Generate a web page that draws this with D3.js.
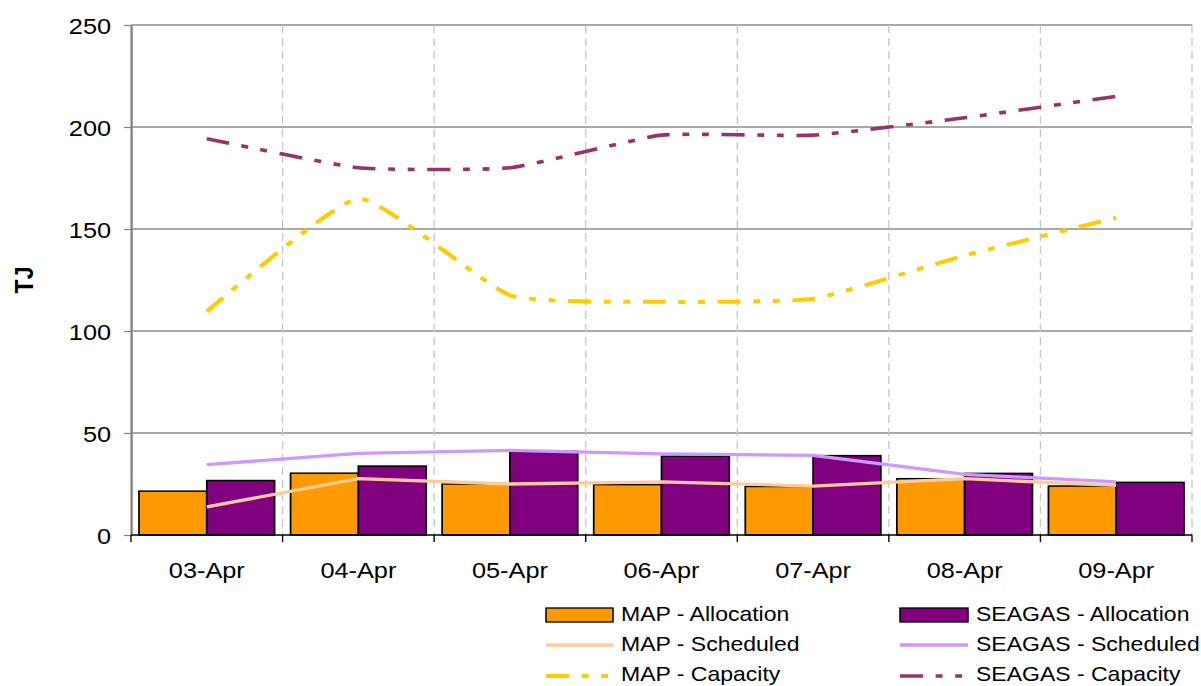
<!DOCTYPE html>
<html>
<head>
<meta charset="utf-8">
<script src="https://cdn.jsdelivr.net/npm/d3@7"></script>
<style>
  html, body { margin: 0; padding: 0; background: #ffffff; }
  svg { display: block; }
  text { font-family: "Liberation Sans", Arial, sans-serif; fill: #000; }
</style>
</head>
<body>
<svg id="chart" width="1201" height="686"></svg>
<script>
// ---------- data ----------
const categories = ["03-Apr", "04-Apr", "05-Apr", "06-Apr", "07-Apr", "08-Apr", "09-Apr"];
const mapAllocation    = [21.5, 30.3, 25.0, 24.7, 23.8, 27.6, 24.0];
const seagasAllocation = [26.7, 33.8, 41.0, 38.6, 38.9, 30.2, 25.8];
const mapScheduled     = [13.8, 27.6, 25.0, 26.0, 24.0, 27.6, 24.3];
const seagasScheduled  = [34.5, 40.0, 41.5, 39.8, 39.0, 29.7, 26.0];
const mapCapacity      = [109.5, 165.0, 117.5, 114.3, 115.8, 137.0, 155.5];
const seagasCapacity   = [194.3, 180.0, 180.0, 196.0, 196.0, 204.5, 215.0];
const yTicks = [0, 50, 100, 150, 200, 250];
const yTitle = "TJ";
const legendLabels = ["MAP - Allocation", "SEAGAS - Allocation", "MAP - Scheduled",
                      "SEAGAS - Scheduled", "MAP - Capacity", "SEAGAS - Capacity"];

// ---------- layout ----------
const SX = 1.15;               // horizontal stretch of the reference rendering
const vx = px => px / SX;      // screen px -> inner units
const plot = { left: 131, right: 1192, top: 25, bottom: 535 };

const svg = d3.select("#chart");
const g = svg.append("g").attr("transform", `scale(${SX},1)`);

const x0 = d3.scaleBand().domain(categories)
  .range([vx(plot.left), vx(plot.right)]).paddingInner(0).paddingOuter(0);
const bw = x0.bandwidth();
const x1 = d3.scaleBand().domain(["MAP", "SEAGAS"])
  .range([vx(8), bw - vx(8)]).paddingInner(0).paddingOuter(0);
const y = d3.scaleLinear().domain([0, 250]).range([plot.bottom, plot.top]);
const cx = c => x0(c) + bw / 2;

// horizontal gridlines
g.append("g").selectAll("line").data(yTicks.filter(t => t > 0)).join("line")
  .attr("x1", vx(plot.left)).attr("x2", vx(plot.right))
  .attr("y1", d => y(d)).attr("y2", d => y(d))
  .attr("stroke", "#555").attr("stroke-width", 1);

// vertical dashed gridlines at category boundaries
const boundaries = categories.map(c => x0(c) + bw);
g.append("g").selectAll("line").data(boundaries).join("line")
  .attr("x1", d => d).attr("x2", d => d)
  .attr("y1", y(250)).attr("y2", y(0))
  .attr("stroke", "#c8c8c8").attr("stroke-width", 1.2)
  .attr("stroke-dasharray", "8 5");

// bars
const barSeries = [
  { key: "MAP", values: mapAllocation, color: "#FF9900" },
  { key: "SEAGAS", values: seagasAllocation, color: "#800080" }
];
barSeries.forEach(s => {
  g.append("g").selectAll("rect").data(s.values).join("rect")
    .attr("x", (d, i) => x0(categories[i]) + x1(s.key))
    .attr("width", x1.bandwidth())
    .attr("y", d => y(d))
    .attr("height", d => y(0) - y(d))
    .attr("fill", s.color)
    .attr("stroke", "#000").attr("stroke-width", 1.5);
});

// lines
const capDash = "20 11 6 11 6 11";
const smooth = d3.curveCardinal.tension(0.55);
const lineSeries = [
  { values: mapScheduled, color: "#FFCC99", width: 3.3, dash: null, curve: d3.curveLinear },
  { values: seagasScheduled, color: "#CC99FF", width: 3.3, dash: null, curve: d3.curveLinear },
  { values: mapCapacity, color: "#FFCC00", width: 4, dash: capDash, curve: smooth },
  { values: seagasCapacity, color: "#993366", width: 3.6, dash: capDash, curve: smooth }
];
lineSeries.forEach(s => {
  const line = d3.line().x((d, i) => cx(categories[i])).y(d => y(d)).curve(s.curve);
  g.append("path").datum(s.values)
    .attr("d", line)
    .attr("fill", "none")
    .attr("stroke", s.color)
    .attr("stroke-width", s.width)
    .attr("stroke-dasharray", s.dash)
    .attr("stroke-linecap", "butt")
    .attr("stroke-linejoin", "round");
});

// y axis
const yAxis = g.append("g").attr("transform", `translate(${vx(plot.left)},0)`)
  .call(d3.axisLeft(y).tickValues(yTicks).tickSizeInner(vx(7)).tickSizeOuter(0).tickPadding(vx(13)));
yAxis.select(".domain").attr("stroke", "#808080").attr("stroke-width", 2);
yAxis.selectAll(".tick line").attr("stroke", "#808080").attr("stroke-width", 1.2);
yAxis.selectAll(".tick text").attr("font-size", 22).attr("font-family", "Liberation Sans, Arial, sans-serif").attr("dy", "0.37em");

// x axis baseline + boundary ticks
g.append("line")
  .attr("x1", vx(plot.left)).attr("x2", vx(plot.right))
  .attr("y1", y(0)).attr("y2", y(0))
  .attr("stroke", "#000").attr("stroke-width", 1.5);
g.append("g").selectAll("line").data([x0(categories[0])].concat(boundaries)).join("line")
  .attr("x1", d => d).attr("x2", d => d)
  .attr("y1", y(0)).attr("y2", y(0) + 7)
  .attr("stroke", "#000").attr("stroke-width", 1.2);
const xAxis = g.append("g").attr("transform", `translate(0,${y(0)})`)
  .call(d3.axisBottom(x0).tickSize(0).tickPadding(27));
xAxis.select(".domain").remove();
xAxis.selectAll(".tick text").attr("font-size", 22).attr("font-family", "Liberation Sans, Arial, sans-serif");

// y title
g.append("text")
  .attr("transform", `translate(${vx(33)},280) rotate(-90)`)
  .attr("text-anchor", "middle")
  .attr("font-size", 23).attr("font-weight", "bold")
  .text(yTitle);

// legend
const legendItems = [
  { label: legendLabels[0], type: "rect", color: "#FF9900" },
  { label: legendLabels[1], type: "rect", color: "#800080" },
  { label: legendLabels[2], type: "line", color: "#FFCC99", width: 3.3, dash: null },
  { label: legendLabels[3], type: "line", color: "#CC99FF", width: 3.3, dash: null },
  { label: legendLabels[4], type: "line", color: "#FFCC00", width: 4, dash: capDash },
  { label: legendLabels[5], type: "line", color: "#993366", width: 3.6, dash: capDash }
];
const colSwatchX = [546, 900], colSwatchW = [67, 68], colTextX = [621, 976];
const rowBase = [621, 651, 681], rowMid = [615, 645, 676];
legendItems.forEach((it, i) => {
  const col = i % 2, row = Math.floor(i / 2);
  const lg = g.append("g");
  if (it.type === "rect") {
    lg.append("rect")
      .attr("x", vx(colSwatchX[col])).attr("y", rowMid[row] - 7)
      .attr("width", vx(colSwatchW[col])).attr("height", 14)
      .attr("fill", it.color).attr("stroke", "#000").attr("stroke-width", 1.3);
  } else {
    lg.append("line")
      .attr("x1", vx(colSwatchX[col])).attr("x2", vx(colSwatchX[col] + colSwatchW[col]))
      .attr("y1", rowMid[row]).attr("y2", rowMid[row])
      .attr("stroke", it.color).attr("stroke-width", it.width)
      .attr("stroke-dasharray", it.dash);
  }
  lg.append("text")
    .attr("x", vx(colTextX[col])).attr("y", rowBase[row])
    .attr("font-size", 20)
    .text(it.label);
});
</script>
</body>
</html>
